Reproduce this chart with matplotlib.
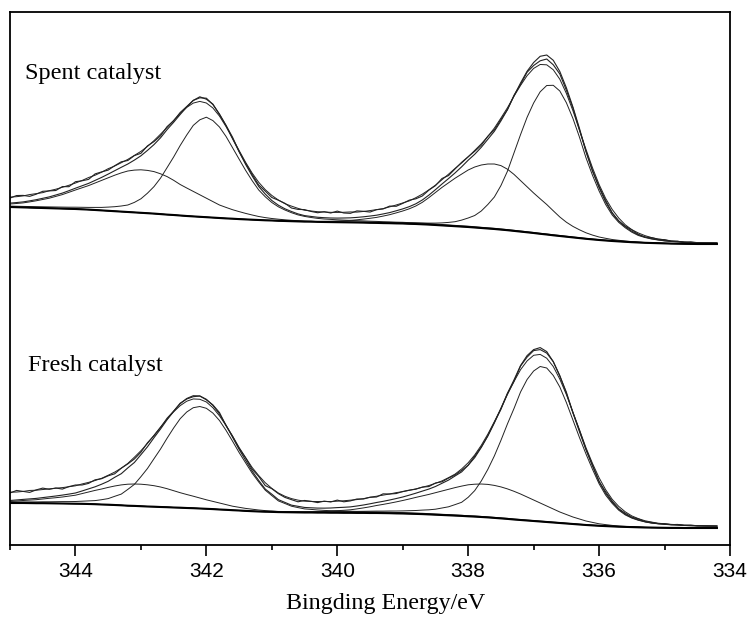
import numpy as np
import matplotlib.pyplot as plt

# binding energy grid (eV), shared by every curve
energy = [345.0, 344.9, 344.8, 344.7, 344.6, 344.5, 344.4, 344.3, 344.2, 344.1,
          344.0, 343.9, 343.8, 343.7, 343.6, 343.5, 343.4, 343.3, 343.2, 343.1,
          343.0, 342.9, 342.8, 342.7, 342.6, 342.5, 342.4, 342.3, 342.2, 342.1,
          342.0, 341.9, 341.8, 341.7, 341.6, 341.5, 341.4, 341.3, 341.2, 341.1,
          341.0, 340.9, 340.8, 340.7, 340.6, 340.5, 340.4, 340.3, 340.2, 340.1,
          340.0, 339.9, 339.8, 339.7, 339.6, 339.5, 339.4, 339.3, 339.2, 339.1,
          339.0, 338.9, 338.8, 338.7, 338.6, 338.5, 338.4, 338.3, 338.2, 338.1,
          338.0, 337.9, 337.8, 337.7, 337.6, 337.5, 337.4, 337.3, 337.2, 337.1,
          337.0, 336.9, 336.8, 336.7, 336.6, 336.5, 336.4, 336.3, 336.2, 336.1,
          336.0, 335.9, 335.8, 335.7, 335.6, 335.5, 335.4, 335.3, 335.2, 335.1,
          335.0, 334.9, 334.8, 334.7, 334.6, 334.5, 334.4, 334.3, 334.2]

zeros10 = [0] * 10

# ---- spent catalyst (a.u.) ----
spent_bg = [338, 337.8, 337.6, 337.4, 337.2, 337.0, 336.8, 336.6, 336.4, 336.2,
            336, 335.7, 335.4, 335.0, 334.6, 334.2, 333.8, 333.4, 333, 332.6,
            332.2, 331.8, 331.4, 330.9, 330.4, 330.0, 329.5, 329.0, 328.6, 328.2,
            327.8, 327.4, 327, 326.6, 326.3, 325.9, 325.6, 325.3, 325, 324.7,
            324.5, 324.2, 324, 323.8, 323.6, 323.4, 323.3, 323.1, 323, 322.9,
            322.8, 322.7, 322.6, 322.5, 322.4, 322.2, 322.1, 321.9, 321.8, 321.6,
            321.5, 321.2, 321, 320.7, 320.4, 320, 319.6, 319.2, 318.8, 318.4,
            318, 317.5, 317, 316.5, 316, 315.4, 314.8, 314.1, 313.4, 312.7,
            312, 311.2, 310.5, 309.7, 309, 308.3, 307.6, 306.9, 306.2, 305.6,
            305, 304.5, 304, 303.6, 303.2, 302.8, 302.5, 302.2, 302, 301.8,
            301.6, 301.4, 301.3, 301.2, 301.1, 301, 301, 301, 301]
spent_p1 = [0.9, 0.95, 1.0, 1.05, 1.1, 1.2, 1.3, 1.4, 1.5, 1.6,
            1.8, 2.0, 2.2, 2.6, 3.0, 3.7, 4.5, 5.6, 7, 10,
            14, 20, 27, 36, 47, 58, 70, 81, 91, 97,
            100, 97, 91, 82, 71, 60, 49, 39, 30, 23.5,
            18, 14, 11, 8.5, 6.5, 5.2, 4.2, 3.5, 3, 2.7,
            2.4, 2.2, 2.0, 1.85, 1.7, 1.6, 1.5, 1.4, 1.3, 1.25,
            1.2, 1.15, 1.1, 1.05, 1.0, 0.95, 0.9, 0.85, 0.8, 0.8,
            0.8, 0.75, 0.7, 0.7, 0.7, 0.65, 0.6, 0.6, 0.6, 0.55,
            0.5, 0.5, 0.5, 0.5, 0.5, 0.45, 0.4, 0.4, 0.4, 0.4,
            0.4, 0.35, 0.3, 0.3, 0.3, 0.3, 0.3, 0.3, 0.3, 0.25,
            0.2, 0.2, 0.2, 0.2, 0.2, 0.2, 0.2, 0.2, 0.2]
spent_p2 = ([3, 3.7, 4.5, 5.7, 7, 8.5, 10, 12, 14, 16.5,
             19, 21.5, 24, 27, 30, 33, 36, 38.7, 41, 42.3,
             43, 42.8, 42, 40.3, 38, 34.7, 31, 28, 25, 22,
             19, 16, 13, 11, 9, 7.5, 6, 4.7, 3.5, 2.7,
             2, 1.6, 1.2, 0.9, 0.7, 0.5, 0.4, 0.3, 0.2, 0.1]
            + zeros10 * 5 + [0] * 9)
spent_p3 = (zeros10 * 4
            + [0, 0, 0, 0.3, 0.3, 0.3, 0.35, 0.35, 0.4, 0.4,
               0.5, 0.5, 0.55, 0.55, 0.6, 0.65, 0.7, 0.75, 0.8, 0.85,
               0.9, 1.0, 1.1, 1.3, 1.5, 1.9, 2.5, 3.4, 4.5, 6.5,
               9, 12, 17, 24, 32, 44, 59, 78, 97, 115,
               130, 142, 149, 150, 145, 134, 119, 101, 81, 64,
               49, 36, 26, 19, 14, 10, 7, 5.3, 4, 3.2,
               2.5, 2.1, 1.8, 1.5, 1.3, 1.15, 1.0, 0.9, 0.8])
spent_p4 = (zeros10 * 4
            + [0, 0, 0, 0, 0, 0, 0.3, 0.5, 0.7, 0.9,
               1.2, 1.6, 2, 2.7, 3.5, 4.5, 5.5, 7, 8.5, 10.5,
               12.5, 15, 18, 22, 27, 32.5, 38, 43, 48, 52.5,
               57, 60.5, 63, 64.5, 65, 64, 61, 56.5, 51, 45.5,
               40, 35, 30, 24.5, 19, 14.5, 11, 8.3, 6, 4.3,
               3, 2.2, 1.5, 1.1, 0.8, 0.6, 0.4, 0.2, 0.1, 0]
            + [0] * 9)
spent_resid = [5, 7, 6.5, 4.5, 5.5, 7, 6, 4.5, 6.5, 4,
               6.5, 5, 4, 6.5, 5.5, 4, 5, 5.5, 3.5, 4.5,
               2.5, 4.5, 3, 2, 3, 1.5, 2, 0.5, 0, 1,
               -1, 0.5, -0.5, 0, 1.5, 0, 1, 1.5, 1.5, 3,
               3, 5, 5.5, 3.5, 4.5, 6, 5, 4.5, 6, 5,
               7, 5, 4.5, 6.5, 5.5, 4, 5.5, 5, 6.5, 4.5,
               5.5, 6.5, 5, 4, 5, 4, 5.5, 3, 4, 4.5,
               3.5, 3, 2, 3, 1.5, 1.5, 0, 0.5, -1.5, -1,
               -3, -4.5, -4, -4.5, -2.5, -2.5, -1, -1.5, 0, -0.5,
               1, 1.5, 0.5, 0, 0.5, 1.5, 0.5, 0, 1, 0.5,
               1, 0, 0.5, -0.5, 0.5, 0, -0.5, 0, 0]

# ---- fresh catalyst (a.u.) ----
fresh_bg = [42, 42, 42, 41.9, 41.8, 41.8, 41.7, 41.6, 41.5, 41.4,
            41.3, 41.2, 41, 40.8, 40.5, 40.3, 40, 39.7, 39.3, 39.1,
            38.8, 38.5, 38.3, 38, 37.8, 37.5, 37.3, 37, 36.8, 36.5,
            36.2, 35.9, 35.5, 35.2, 34.8, 34.5, 34.1, 33.8, 33.5, 33.3,
            33.1, 32.9, 32.8, 32.7, 32.6, 32.5, 32.5, 32.4, 32.4, 32.3,
            32.3, 32.2, 32.2, 32.1, 32.1, 32, 32, 31.9, 31.8, 31.6,
            31.5, 31.3, 31.1, 30.9, 30.6, 30.3, 30, 29.7, 29.4, 29.1,
            28.7, 28.4, 28, 27.6, 27.1, 26.6, 26.1, 25.5, 25, 24.5,
            24, 23.5, 23, 22.5, 22, 21.5, 21, 20.5, 20, 19.6,
            19.2, 18.9, 18.6, 18.3, 18.1, 17.9, 17.7, 17.5, 17.4, 17.3,
            17.2, 17.1, 17.1, 17, 17, 17, 17, 17, 17]
fresh_p1 = [1.0, 1.05, 1.1, 1.2, 1.3, 1.4, 1.5, 1.7, 1.9, 2.0,
            2.2, 2.6, 3.1, 3.6, 4.8, 6.1, 8.7, 11.2, 16.3, 21.5,
            29.5, 38, 48, 58, 69, 79.5, 89, 96, 100.5, 102,
            100.5, 96, 89, 79.5, 69, 58, 48, 38, 29.5, 21.5,
            16.3, 11.2, 8.7, 6.1, 4.8, 3.6, 3.1, 2.6, 2.2, 2.0,
            1.9, 1.7, 1.5, 1.4, 1.3, 1.2, 1.1, 1.05, 1.0, 0.95,
            0.9, 0.85, 0.8, 0.8, 0.75, 0.7, 0.7, 0.7, 0.65, 0.6,
            0.6, 0.6, 0.55, 0.5, 0.5, 0.5, 0.5, 0.45, 0.45, 0.4,
            0.4, 0.4, 0.4, 0.35, 0.35, 0.3, 0.3, 0.3, 0.3, 0.3,
            0.3, 0.3, 0.25, 0.25, 0.2, 0.2, 0.2, 0.2, 0.2, 0.2,
            0.2, 0.15, 0.15, 0.1, 0.1, 0.1, 0.1, 0.1, 0.1]
fresh_p2 = ([1.5, 2, 2.5, 3, 3.5, 4.2, 5, 5.7, 6.5, 7.5,
             8.5, 10.2, 12, 13.8, 15.5, 17.3, 19, 20.4, 21.5, 21.9,
             22, 21.7, 21, 20, 18.5, 16.8, 15, 13.5, 12, 10.5,
             9, 7.7, 6.5, 5.2, 4, 3.2, 2.5, 2, 1.5, 1.1,
             0.8, 0.6, 0.4, 0.3, 0.2, 0.1, 0, 0, 0, 0]
            + zeros10 * 5 + [0] * 9)
fresh_p3 = (zeros10 * 4
            + [0.6, 0.65, 0.7, 0.75, 0.8, 0.85, 0.9, 1.0, 1.05, 1.1,
               1.2, 1.3, 1.4, 1.5, 1.6, 1.8, 1.9, 2.0, 2.2, 2.4,
               2.6, 3, 3.4, 4, 4.6, 5.5, 7, 8.5, 11, 13.6,
               19, 26, 36, 48, 62, 78, 95, 111, 128, 141,
               150, 155, 154, 147, 136, 121, 104, 87, 71, 56,
               42, 31, 23, 16.5, 12, 9, 7, 5.6, 4.5, 3.9,
               3.4, 3.1, 2.8, 2.5, 2.3, 2.1, 2.0, 1.9, 1.8])
fresh_p4 = (zeros10 * 4
            + [0, 0, 0, 0, 0.3, 0.5, 0.7, 0.9, 1.2, 1.6,
               2, 2.5, 3, 4, 5, 6.2, 7.5, 8.7, 10, 11.5,
               13, 14.7, 16.5, 18.2, 20, 22, 24, 26, 28, 29.8,
               31.5, 32.4, 33, 33, 32.5, 31.5, 30, 28.2, 26, 23.5,
               21, 18.5, 16, 13.5, 11, 9, 7, 5.5, 4, 3,
               2, 1.5, 1, 0.7, 0.5, 0.3, 0.2, 0.1, 0, 0]
            + [0] * 9)
fresh_resid = [7.5, 9.5, 8, 6.5, 8.5, 9.5, 7.5, 8, 6, 7.5,
               8, 6, 5.5, 7, 5.5, 5.5, 3.5, 5.5, 4, 3.5,
               2.5, 4, 2, 1.5, 1.5, 0, 0.5, -0.5, -1, 0,
               -0.5, 0.5, 1.5, -0.5, 1, 1, 2.5, 2, 4, 3.5,
               5.5, 6, 5, 5.5, 4.5, 7, 6.5, 5.5, 7, 6,
               7.5, 5.5, 6, 7, 6, 6.5, 5.5, 7.5, 6, 5,
               5.5, 5, 4, 4, 2.5, 3.5, 1.5, 2, 1, 1.5,
               0, 1.5, 0.5, 0, 0.5, -1, 0, -1.5, -0.5, -1.5,
               -1, -2, -1.5, 0, -0.5, 1, 0, 1.5, 0.5, 1,
               0, 1.5, 1, 0.5, 1, 0.5, 1, 0, 0.5, 0,
               0.5, 0, 0.5, 0, 0.5, 0, 0, 0, 0]

labels = ['Spent catalyst', 'Fresh catalyst']


def smooth(y, w=5):
    p = np.pad(y, w // 2, mode='edge')
    return np.convolve(p, np.ones(w) / w, mode='valid')


fig = plt.figure(figsize=(7.51, 6.24), dpi=100)
ax = fig.add_axes([10/751, 79/624, 720/751, 533/624])

x = np.array(energy)
sets = [(spent_bg, [spent_p1, spent_p2, spent_p3, spent_p4], spent_resid),
        (fresh_bg, [fresh_p1, fresh_p2, fresh_p3, fresh_p4], fresh_resid)]
kw = dict(color='#222222', solid_joinstyle='round')
for bg, peaks, resid in sets:
    bg = np.array(bg, dtype=float)
    peaks = [np.array(p, dtype=float) for p in peaks]
    env = bg + sum(peaks)
    raw = env + np.array(resid, dtype=float)
    for p in peaks:
        ax.plot(x, bg + p, lw=0.7, **kw)
    ax.plot(x, env, lw=0.8, **kw)
    ax.plot(x, smooth(raw), lw=0.7, **kw)
    ax.plot(x, raw, lw=0.8, **kw)
    ax.plot(x, bg, color='black', lw=1.5)

serif = ['Liberation Serif', 'DejaVu Serif']
ax.text(344.77, 466, labels[0], fontsize=17.5, family=serif, va='baseline')
ax.text(344.72, 174, labels[1], fontsize=17.5, family=serif, va='baseline')

ax.set_xlim(345, 334)
ax.set_ylim(0, 533)
ax.set_xticks([344, 342, 340, 338, 336, 334])
ax.set_xticks([345, 343, 341, 339, 337, 335], minor=True)
ax.set_yticks([])
ax.tick_params(axis='x', which='major', direction='out', length=8, width=1.2, pad=4)
ax.tick_params(axis='x', which='minor', direction='out', length=3.6, width=1.2)
for t in ax.get_xticklabels():
    t.set_fontfamily(['Liberation Sans', 'DejaVu Sans'])
    t.set_fontsize(15)
for s in ax.spines.values():
    s.set_linewidth(1.3)

ax.set_xlabel('Bingding Energy/eV', fontsize=17.3, family=serif)
ax.xaxis.set_label_coords(0.522, -0.09)

fig.savefig('out.png', dpi=100)
